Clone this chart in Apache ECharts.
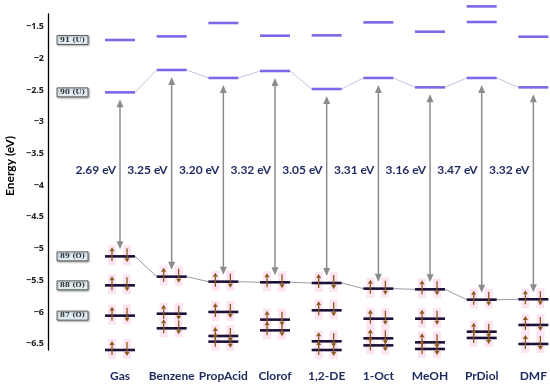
<!DOCTYPE html>
<html><head><meta charset="utf-8">
<script src="https://cdn.jsdelivr.net/npm/echarts@6/dist/echarts.min.js"></script>
<style>html,body{margin:0;padding:0;background:#fff}#c{width:550px;height:389px}</style>
</head><body><div id="c"></div>
<script>
// ---- data ----
const categories = ['Gas', 'Benzene', 'PropAcid', 'Clorof', '1,2-DE', '1-Oct', 'MeOH', 'PrDiol', 'DMF'];
const gapLabels = ['2.69 eV', '3.25 eV', '3.20 eV', '3.32 eV', '3.05 eV', '3.31 eV', '3.16 eV', '3.47 eV', '3.32 eV'];
const orb92 = [null, null, null, null, null, null, null, -1.18, null];
const orb91 = [-1.71, -1.653, -1.442, -1.642, -1.637, -1.432, -1.579, -1.426, -1.658];
const orb90 = [-2.536, -2.183, -2.309, -2.199, -2.483, -2.309, -2.457, -2.309, -2.457];
const orb89 = [-5.123, -5.443, -5.522, -5.532, -5.543, -5.632, -5.643, -5.806, -5.80];
const orb88 = [-5.58, -6.027, -6.0, -6.121, -5.974, -6.106, -6.106, -6.311, -6.205];
const orb87 = [-6.058, -6.258, -6.379, -6.29, -6.463, -6.416, -6.479, -6.41, -6.505];
const orb86 = [-6.60, null, -6.468, null, -6.60, -6.527, -6.584, null, null];
const orbitalTags = { orb91: '91 (U)', orb90: '90 (U)', orb89: '89 (O)', orb88: '88 (O)', orb87: '87 (O)' };
const yMin = -6.6, yMax = -1.3;

// ---- style ----
const AXIS_OFFSET = 72;
const HALF = 15;
const UNOCC = '#7a68e6', OCC = '#1c1238', ELEC = '#8a5a1c', PINK = '#fde4f2';
const TXT = '#1e2a5e';

function levelSeries(name, values, occupied, connectColor, tag) {
  const data = values.map((v, i) => [i, v]).filter(d => d[1] != null);
  return {
    type: 'custom', name: name, clip: false, silent: true,
    data: data,
    renderItem: function (params, api) {
      const i = api.value(0), v = api.value(1);
      const p = api.coord([i, v]);
      const ch = [];
      if (connectColor && i > 0 && values[i - 1] != null) {
        const q = api.coord([i - 1, values[i - 1]]);
        ch.push({ type: 'line', z2: 5, shape: { x1: q[0] + HALF, y1: q[1], x2: p[0] - HALF, y2: p[1] },
          style: { stroke: connectColor, lineWidth: 1 } });
      }
      if (occupied) {
        [-8, 7].forEach(dx => ch.push({ type: 'rect', z2: 1,
          shape: { x: p[0] + dx - 4, y: p[1] - 11, width: 8, height: 20 }, style: { fill: PINK } }));
      }
      ch.push({ type: 'line', z2: 10, shape: { x1: p[0] - HALF, y1: p[1], x2: p[0] + HALF, y2: p[1] },
        style: { stroke: occupied ? OCC : UNOCC, lineWidth: 2.6 } });
      if (occupied) {
        const xu = p[0] - 8, xd = p[0] + 7, y = p[1];
        ch.push({ type: 'line', z2: 20, shape: { x1: xu, y1: y + 5, x2: xu, y2: y - 5 }, style: { stroke: ELEC, lineWidth: 1.3 } });
        ch.push({ type: 'polygon', z2: 20, shape: { points: [[xu - 2.5, y - 5], [xu + 2.5, y - 5], [xu, y - 9]] }, style: { fill: ELEC } });
        ch.push({ type: 'line', z2: 20, shape: { x1: xd, y1: y - 8, x2: xd, y2: y + 2 }, style: { stroke: ELEC, lineWidth: 1.3 } });
        ch.push({ type: 'polygon', z2: 20, shape: { points: [[xd - 2.5, y + 2], [xd + 2.5, y + 2], [xd, y + 6]] }, style: { fill: ELEC } });
      }
      if (tag && i === 0) {
        const ax = params.coordSys.x - AXIS_OFFSET;
        ch.push({ type: 'rect', z2: 30, shape: { x: ax + 9, y: p[1] - 4.5, width: 31, height: 9 },
          style: { fill: '#e0eef3', stroke: '#444', lineWidth: 0.8, shadowBlur: 2, shadowOffsetX: 1, shadowOffsetY: 1, shadowColor: 'rgba(0,0,0,0.35)' } });
        ch.push({ type: 'text', z2: 31, style: { text: tag, x: ax + 24.5, y: p[1], align: 'center', verticalAlign: 'middle',
          font: 'bold 7px "DejaVu Serif", serif', fill: '#333' } });
      }
      return { type: 'group', children: ch };
    }
  };
}

const gapSeries = {
  type: 'custom', name: 'gap', clip: false, silent: true,
  data: categories.map((c, i) => [i, orb89[i], orb90[i]]),
  renderItem: function (params, api) {
    const i = api.value(0);
    const pH = api.coord([i, api.value(1)]);
    const pL = api.coord([i, api.value(2)]);
    const x = pH[0], yT = pL[1] + 7, yB = pH[1] - 7;
    const col = '#8c8c8c';
    const lblY = api.coord([i, -3.77])[1];
    return { type: 'group', children: [
      { type: 'line', z2: 15, shape: { x1: x, y1: yT + 6, x2: x, y2: yB - 6 }, style: { stroke: col, lineWidth: 1.5 } },
      { type: 'polygon', z2: 15, shape: { points: [[x - 3.5, yT + 8], [x + 3.5, yT + 8], [x, yT]] }, style: { fill: col } },
      { type: 'polygon', z2: 15, shape: { points: [[x - 3.5, yB - 8], [x + 3.5, yB - 8], [x, yB]] }, style: { fill: col } },
      { type: 'text', z2: 40, style: { text: gapLabels[i], x: x - 4, y: lblY, align: 'right', verticalAlign: 'middle',
        font: 'bold 12px Lato, "Open Sans", sans-serif', fill: TXT } }
    ] };
  }
};

const chart = echarts.init(document.getElementById('c'), null, { renderer: 'canvas' });
chart.setOption({
  animation: false,
  backgroundColor: '#fff',
  grid: { left: 120, right: 15, top: 14, bottom: 39, containLabel: false },
  xAxis: {
    type: 'category', data: categories, boundaryGap: false,
    axisLine: { show: false }, axisTick: { show: false }, splitLine: { show: false },
    axisLabel: { interval: 0, margin: 20, color: TXT, fontWeight: 'bold', fontSize: 12, fontFamily: 'Lato, "Open Sans", sans-serif' }
  },
  yAxis: {
    type: 'value', min: yMin, max: yMax, splitNumber: 10, offset: AXIS_OFFSET,
    axisLine: { show: true, onZero: false, lineStyle: { color: '#000', width: 1.3 } },
    axisTick: { show: false }, splitLine: { show: false },
    axisLabel: {
      margin: 4, fontSize: 9, fontWeight: 'bold', color: '#222', fontFamily: '"Open Sans", sans-serif',
      showMinLabel: false, showMaxLabel: false,
      formatter: function (v) {
        const r = Math.round(v * 2) / 2;
        if (Math.abs(r - v) > 1e-6) return '';
        return String(r).replace('-', '\u2212');
      }
    }
  },
  graphic: [{ type: 'text', x: 10, y: 166, rotation: Math.PI / 2,
    style: { text: 'Energy (eV)', align: 'center', verticalAlign: 'middle', font: 'bold 12px Lato, "Open Sans", sans-serif', fill: '#000' } }],
  series: [
    levelSeries('92', orb92, false, null, null),
    levelSeries('91', orb91, false, null, orbitalTags.orb91),
    levelSeries('90', orb90, false, '#c9c2e6', orbitalTags.orb90),
    levelSeries('89', orb89, true, '#9a9aa6', orbitalTags.orb89),
    levelSeries('88', orb88, true, null, orbitalTags.orb88),
    levelSeries('87', orb87, true, null, orbitalTags.orb87),
    levelSeries('86', orb86, true, null, null),
    gapSeries
  ]
});
</script></body></html>
